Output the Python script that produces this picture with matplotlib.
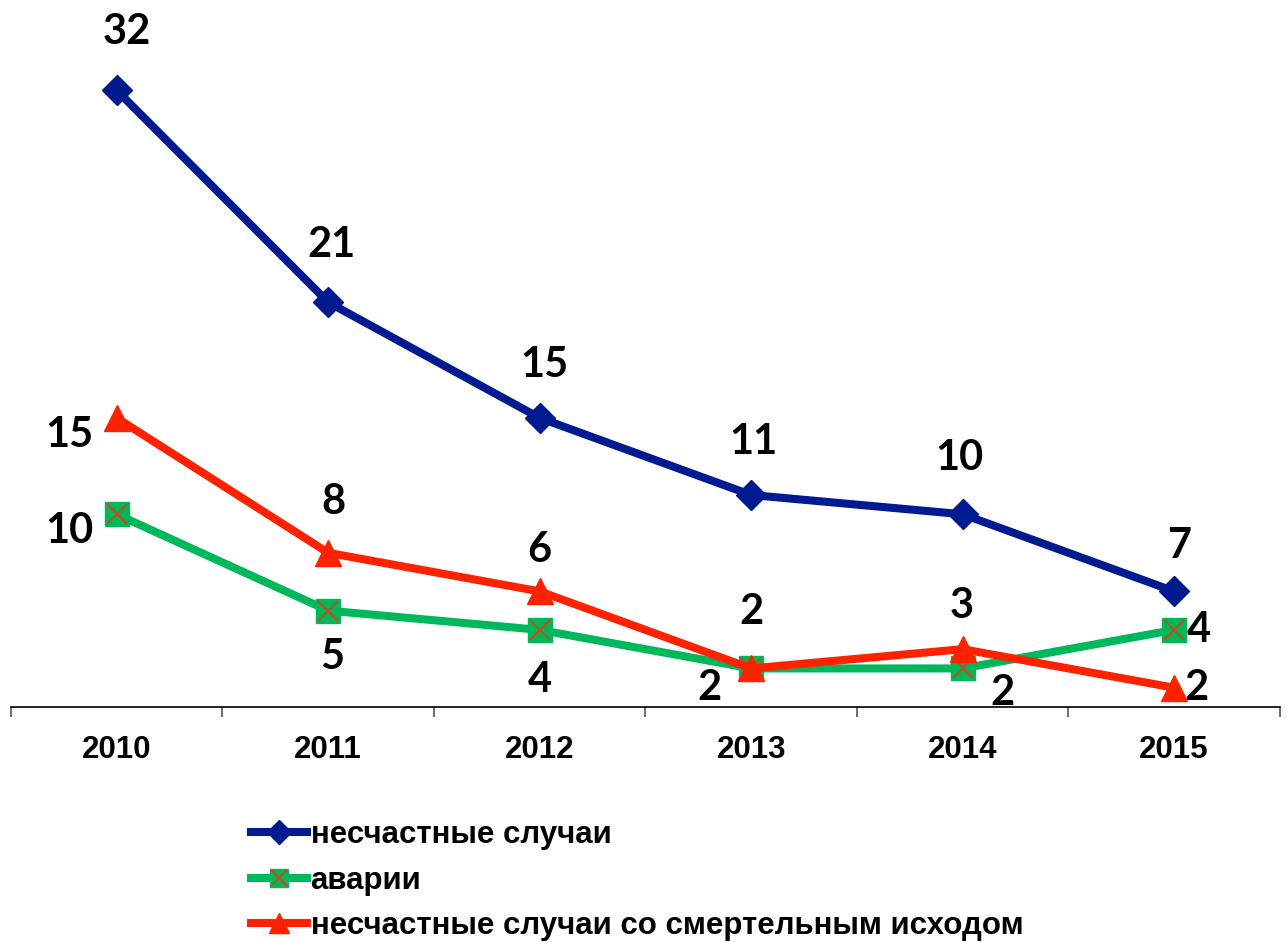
import matplotlib.pyplot as plt
from matplotlib.lines import Line2D
from matplotlib.legend_handler import HandlerTuple

# данные
years = ['2010', '2011', '2012', '2013', '2014', '2015']
accidents = [32, 21, 15, 11, 10, 6]          # положение точек на графике
accidents_lbl = ['32', '21', '15', '11', '10', '7']
breakdowns = [10, 5, 4, 2, 2, 4]
breakdowns_lbl = ['10', '5', '4', '2', '2', '4']
fatal = [15, 8, 6, 2, 3, 1]
fatal_lbl = ['15', '8', '6', '2', '3', '2']

blue = '#001a8f'
green = '#00b85c'
red = '#ff2200'
brown = '#b5541f'

fig = plt.figure(figsize=(12.87, 9.42), dpi=100)
ax = fig.add_axes([0.0085, 0.2495, 0.986, 0.716])

x = range(len(years))
ax.plot(x, accidents, color=blue, lw=5.8, marker='D', ms=15, zorder=3)
ax.plot(x, breakdowns, color=green, lw=5.8, marker='s', ms=17, zorder=4)
ax.plot(x, breakdowns, ls='none', marker='x', ms=15, mew=1.6, color=brown, zorder=5)
ax.plot(x, fatal, color=red, lw=5.8, marker='^', ms=19, zorder=6)

# подписи значений (смещения в пикселях)
lbl_font = dict(fontsize=30, fontweight='bold', family='Lato', color='black',
                ha='center', va='center')
off_blue = [(10, 58), (3, 57), (5, 53), (2, 53), (-3, 56), (5, 45)]
off_green = [(-47, -17), (4, -46), (0, -50), (-42, -20), (40, -25), (25, 0)]
off_red = [(-47, -17), (5, 51), (0, 41), (0, 56), (-1, 43), (22, 0)]
for vals, lbls, offs in [(accidents, accidents_lbl, off_blue),
                         (breakdowns, breakdowns_lbl, off_green),
                         (fatal, fatal_lbl, off_red)]:
    for i, (v, t) in enumerate(zip(vals, lbls)):
        ax.annotate(t, (i, v), xytext=offs[i], textcoords='offset pixels', **lbl_font)

ax.set_xlim(-0.5, 5.5)
ax.set_ylim(0, 35)
for s in ['top', 'right', 'left']:
    ax.spines[s].set_visible(False)
ax.spines['bottom'].set_linewidth(1.2)
ax.set_yticks([])
ax.set_xticks(list(x))
ax.set_xticklabels(years, fontsize=22.5, fontweight='bold', family='Liberation Sans')
ax.tick_params(axis='x', which='major', length=0, pad=20)
ax.set_xticks([i - 0.5 for i in range(len(years) + 1)], minor=True)
ax.tick_params(axis='x', which='minor', length=7, width=1.2, color='#555555')

h_blue = Line2D([], [], color=blue, lw=5.8, marker='D', ms=12)
h_green = Line2D([], [], color=green, lw=5.8, marker='s', ms=13)
h_x = Line2D([], [], ls='none', marker='x', ms=11, mew=1.6, color=brown)
h_red = Line2D([], [], color=red, lw=5.8, marker='^', ms=15)
fig.legend([h_blue, (h_green, h_x), h_red],
           ['несчастные случаи', 'аварии', 'несчастные случаи со смертельным исходом'],
           handler_map={tuple: HandlerTuple(ndivide=1, pad=0)},
           loc='upper left', bbox_to_anchor=(0.183, 0.146), frameon=False,
           prop={'family': 'Liberation Sans', 'weight': 'bold', 'size': 22.5},
           handlelength=1.8, handletextpad=0.1, labelspacing=0.5, borderpad=0)

fig.savefig('out.png', dpi=100)
